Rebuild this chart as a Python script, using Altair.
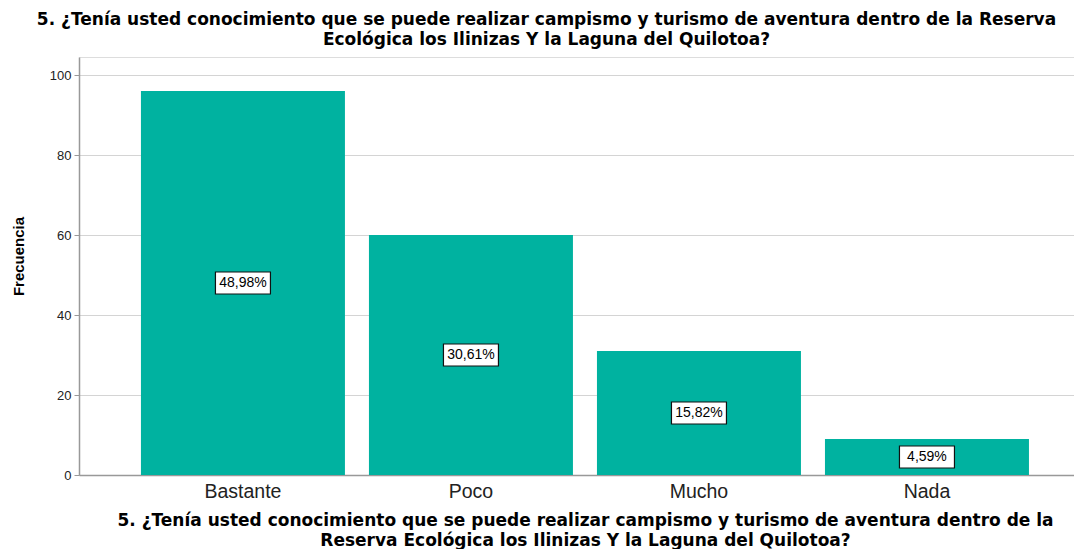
import altair as alt
import pandas as pd

categorias = ["Bastante", "Poco", "Mucho", "Nada"]
frecuencias = [96, 60, 31, 9]
porcentajes = ["48,98%", "30,61%", "15,82%", "4,59%"]
y_ticks = [0, 20, 40, 60, 80, 100]

titulo = ["5. ¿Tenía usted conocimiento que se puede realizar campismo y turismo de aventura dentro de la Reserva",
          "Ecológica los Ilinizas Y la Laguna del Quilotoa?"]
titulo_x = ["5. ¿Tenía usted conocimiento que se puede realizar campismo y turismo de aventura dentro de la",
            "Reserva Ecológica los Ilinizas Y la Laguna del Quilotoa?"]

FONT = "Liberation Sans"
TFONT = "DejaVu Sans"
TEAL = "#00b2a0"

df = pd.DataFrame({"cat": categorias, "freq": frecuencias, "pct": porcentajes})

W, H = 995, 418

xenc = alt.X(
    "cat:N",
    sort=categorias,
    scale=alt.Scale(paddingInner=0.1053, paddingOuter=0.2346, align=0.579),
    axis=alt.Axis(
        title=titulo_x,
        titleFont=TFONT, titleFontSize=17, titleFontWeight="bold", titleColor="black",
        titleX=506, titleY=50, titleAlign="center", titleBaseline="alphabetic", titleLineHeight=20,
        labelFont=FONT, labelFontSize=19.5, labelColor="#222", labelPadding=7, labelAngle=0,
        ticks=False, domainColor="#999", domainWidth=1.5, grid=False,
    ),
)

base = alt.Chart(df).encode(x=xenc)

bars = base.mark_bar(color=TEAL).encode(
    y=alt.Y(
        "freq:Q",
        scale=alt.Scale(domain=[0, 104.5], nice=False, zero=True),
        axis=alt.Axis(
            title="Frecuencia", values=y_ticks,
            titleFont=FONT, titleFontSize=15, titleFontWeight="bold", titleColor="black",
            titleX=-61, titleY=H / 2 - 10, titleAngle=-90, titleAlign="center", titleBaseline="middle",
            labelFont=FONT, labelFontSize=13, labelColor="#222", labelPadding=3,
            tickSize=5, tickColor="#999", domainColor="#999", domainWidth=1.5,
            grid=True, gridColor="#d4d4d4", gridWidth=1,
        ),
    )
)

boxes = base.transform_calculate(mid="datum.freq / 2").mark_point(
    shape="M-1,-0.4L1,-0.4L1,0.4L-1,0.4Z", size=55 * 55, filled=True,
    fill="white", stroke="#111", strokeWidth=1.2, opacity=1,
).encode(y=alt.Y("mid:Q"))

labels = base.transform_calculate(mid="datum.freq / 2").mark_text(
    font=FONT, fontSize=14, color="black", baseline="middle", align="center",
).encode(y=alt.Y("mid:Q"), text="pct:N")

chart = (
    alt.layer(bars, boxes, labels)
    .properties(
        width=W, height=H,
        title=alt.TitleParams(
            text=titulo, font=TFONT, fontSize=17, fontWeight="bold", color="black",
            anchor="middle", dx=-30, offset=8, lineHeight=20,
        ),
        autosize=alt.AutoSizeParams(type="none"),
        padding={"left": 71, "top": 49, "right": 0, "bottom": 74},
    )
    .configure_view(stroke=None)
    .configure(background="white")
)

chart.save("out.html", embed_options={"renderer": "svg", "actions": False})
